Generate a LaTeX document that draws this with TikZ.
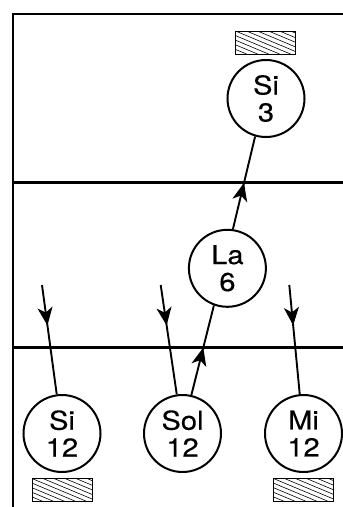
\documentclass[tikz,border=0pt]{standalone}
\usepackage{fontspec}
\setmainfont{TeX Gyre Heros}[FakeStretch=1.12,FakeBold=0.3]
\usetikzlibrary{arrows.meta,decorations.markings}
\begin{document}
\begin{tikzpicture}[x=1pt,y=-1pt,
  circ/.style={circle,draw,line width=2pt,minimum size=77pt,inner sep=0pt,align=center,
    font=\fontsize{26}{27}\selectfont},
  frameline/.style={line width=2.1pt},
  conn/.style={line width=1.9pt},
  midarr/.style={postaction={decorate},decoration={markings,
    mark=at position #1 with {\arrow{Stealth[length=18pt,width=15pt,inset=5pt]}}}},
  hatchbox/.style={draw,line width=0.9pt,minimum width=60pt,minimum height=23pt,inner sep=0pt,
    path picture={\foreach \i in {-66,-55,...,66}{
      \draw[line width=0.6pt] ([xshift=\i pt]path picture bounding box.north west) -- ++(55pt,-23pt);}}}
]
\useasboundingbox (0,0) rectangle (343,507);
% frame
\draw[frameline] (343,14) -- (12.7,14) -- (12.7,507);
\draw[frameline] (12.7,182.5) -- (343,182.5);
\draw[frameline] (12.7,347.5) -- (343,347.5);
% hatched boxes
\node[hatchbox] (h1) at (265.5,42.5) {};
\node[hatchbox] (h2) at (62,490) {};
\node[hatchbox] (h3) at (303.5,490) {};
% circles
\node[circ] (si3) at (266,98.5) {Si\\3};
\node[circ] (la6) at (227.4,268.3) {La\\6};
\node[circ] (si12) at (62,433.5) {Si\\12};
\node[circ] (sol12) at (182.5,433.5) {Sol\\12};
\node[circ] (mi12) at (303.5,433.5) {Mi\\12};
% incoming
\coordinate (in1) at (42,285);
\coordinate (in2) at (160.7,285);
\coordinate (in3) at (289.3,285);
\draw[conn,midarr=0.37] (in1) -- (si12);
\draw[conn,midarr=0.37] (in2) -- (sol12);
\draw[conn,midarr=0.37] (in3) -- (mi12);
% outgoing
\draw[conn,midarr=0.53] (sol12.77) -- (la6.250);
\draw[conn,midarr=0.5] (la6.82) -- (si3.254);
\end{tikzpicture}
\end{document}
